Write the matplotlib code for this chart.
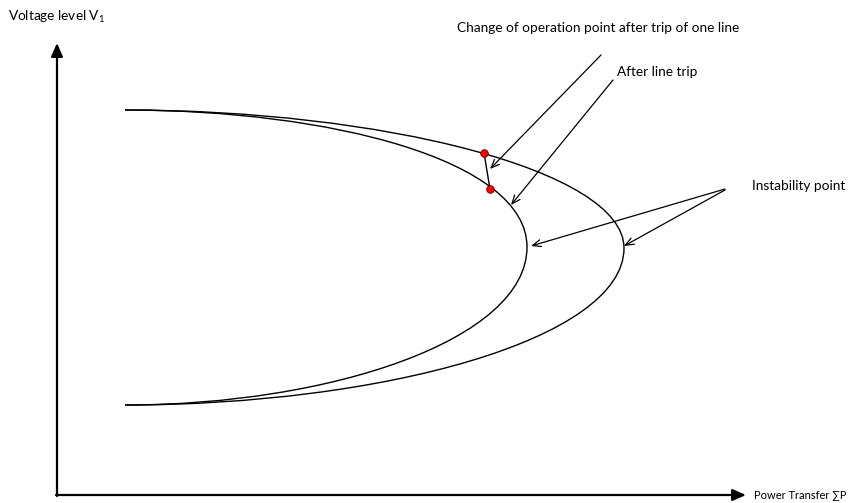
import matplotlib
matplotlib.use('Agg')
import matplotlib.pyplot as plt
from matplotlib.path import Path
from matplotlib.patches import PathPatch

plt.rcParams['font.family'] = ['Lato', 'DejaVu Sans']
plt.rcParams['mathtext.fontset'] = 'custom'
plt.rcParams['mathtext.rm'] = 'Lato'

# nose curves as cubic bezier control points (x = power transfer, y = voltage, in picture units)
outer_upper = [(125, 110), (380, 110), (624, 170), (624, 248)]
outer_lower = [(624, 248), (624, 340), (380, 405), (125, 405)]
inner_upper = [(125, 110), (330, 110), (527, 160), (527, 247)]
inner_lower = [(527, 247), (527, 340), (330, 405), (125, 405)]

# operating points before / after the line trip
op_x = [484, 490]
op_y = [153, 189]

# annotation arrows: (arrow start, arrow end)
label_change = "Change of operation point after trip of one line"
label_trip = "After line trip"
label_instab = "Instability point"
change_arrow = [(601, 55), (490, 169)]
trip_arrow = [(613, 80), (511, 205)]
instab_arrows = [[(725, 189), (531, 246)], [(725, 190), (624, 246)]]

origin = (57, 495)
x_tip = 746
y_tip = 43

fig = plt.figure(figsize=(8.49, 5.03), dpi=100)
ax = fig.add_axes([0, 0, 1, 1])
ax.set_xlim(0, 849)
ax.set_ylim(503, 0)
ax.axis('off')

codes = [Path.MOVETO, Path.CURVE4, Path.CURVE4, Path.CURVE4]
for pts in [outer_upper, outer_lower, inner_upper, inner_lower]:
    ax.add_patch(PathPatch(Path(pts, codes), facecolor='none', edgecolor='black', lw=1.0))

# axes with filled arrow heads
head = '-|>,head_length=0.8,head_width=0.35'
ax.annotate('', xy=(x_tip, origin[1]), xytext=(origin[0] - 1, origin[1]),
            arrowprops=dict(arrowstyle=head, color='black', lw=1.6, shrinkA=0, shrinkB=0))
ax.annotate('', xy=(origin[0], y_tip), xytext=(origin[0], origin[1] + 1),
            arrowprops=dict(arrowstyle=head, color='black', lw=1.6, shrinkA=0, shrinkB=0))

# transition between operating points
ax.plot(op_x, op_y, color='black', lw=1.0)
ax.plot(op_x, op_y, 'o', markersize=5.5, markerfacecolor='red', markeredgecolor='#600000', markeredgewidth=0.6)

arrow_kw = dict(arrowstyle='->,head_length=0.6,head_width=0.25', color='black', lw=0.9, shrinkA=0, shrinkB=0)
for start, end in [change_arrow, trip_arrow] + instab_arrows:
    ax.annotate('', xy=end, xytext=start, arrowprops=arrow_kw)

fs = 9.8
ax.text(8, 17, r'Voltage level V$_\mathrm{1}$', fontsize=fs, va='center', ha='left')
ax.text(754, 495, 'Power Transfer \u2211P', fontsize=8.0, va='center', ha='left')
ax.text(457, 28, label_change, fontsize=fs, va='center', ha='left')
ax.text(617, 72, label_trip, fontsize=fs, va='center', ha='left')
ax.text(752, 186, label_instab, fontsize=fs, va='center', ha='left')

fig.savefig('out.png', dpi=100)
